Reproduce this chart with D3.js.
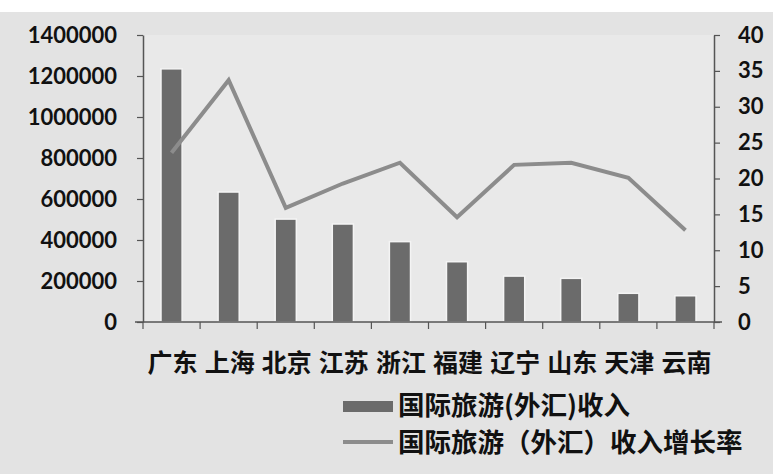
<!DOCTYPE html>
<html>
<head>
<meta charset="utf-8">
<script src="https://cdn.jsdelivr.net/npm/d3@7"></script>
<style>
  body { margin: 0; background: #fff; }
  svg { display: block; }
</style>
</head>
<body>
<div id="chart"></div>
<script>
  const provinces = ['广东', '上海', '北京', '江苏', '浙江', '福建', '辽宁', '山东', '天津', '云南'];
  const income = [1235000, 634000, 502000, 478000, 392000, 294000, 224000, 213000, 140000, 128000];
  const growth = [23.6, 33.7, 15.9, 19.3, 22.2, 14.6, 21.9, 22.2, 20.1, 12.8];
  const leftTicks = [0, 200000, 400000, 600000, 800000, 1000000, 1200000, 1400000];
  const rightTicks = [0, 5, 10, 15, 20, 25, 30, 35, 40];
  const legendNames = ['国际旅游(外汇)收入', '国际旅游（外汇）收入增长率'];

  const width = 773;
  const height = 474;
  const margin = { top: 35, right: 59, bottom: 152, left: 143 };

  const svg = d3.select('#chart')
    .append('svg')
    .attr('width', width)
    .attr('height', height);

  // scanned-page grey background
  svg.append('rect')
    .attr('x', 0).attr('y', 12)
    .attr('width', width).attr('height', height - 12)
    .attr('fill', '#e3e3e3');

  const x = d3.scaleBand()
    .domain(provinces)
    .range([margin.left, width - margin.right]);

  const yLeft = d3.scaleLinear()
    .domain([0, 1400000])
    .range([height - margin.bottom, margin.top]);

  const yRight = d3.scaleLinear()
    .domain([0, 40])
    .range([height - margin.bottom, margin.top]);

  svg.append('rect')
    .attr('x', margin.left).attr('y', margin.top)
    .attr('width', x.range()[1] - margin.left)
    .attr('height', yLeft(0) - margin.top)
    .attr('fill', '#e9e9e9');

  const barW = x.bandwidth() * 0.37;

  svg.append('g')
    .selectAll('rect')
    .data(provinces)
    .enter()
    .append('rect')
    .attr('x', d => x(d) + (x.bandwidth() - barW) / 2)
    .attr('y', (d, i) => yLeft(income[i]))
    .attr('width', barW)
    .attr('height', (d, i) => yLeft(0) - yLeft(income[i]))
    .attr('fill', '#6b6b6b')
    .attr('stroke', '#f4f4f4')
    .attr('stroke-width', 1.5);

  const line = d3.line()
    .x(d => x(d) + x.bandwidth() / 2)
    .y((d, i) => yRight(growth[i]));

  svg.append('path')
    .datum(provinces)
    .attr('d', line)
    .attr('fill', 'none')
    .attr('stroke', '#8c8c8c')
    .attr('stroke-width', 4)
    .attr('stroke-linejoin', 'miter');

  const styleAxis = g => {
    g.select('.domain').attr('stroke', '#555').attr('stroke-width', 1.5);
    g.selectAll('.tick line').attr('stroke', '#555').attr('stroke-width', 1.2);
    g.selectAll('.tick text')
      .attr('fill', '#111')
      .style('font-family', 'Lato, "Open Sans", sans-serif')
      .style('font-size', '22px')
      .style('font-weight', 'bold');
  };

  svg.append('g')
    .attr('transform', `translate(${margin.left},0)`)
    .call(d3.axisLeft(yLeft).tickValues(leftTicks).tickSize(6).tickPadding(20).tickSizeOuter(0).tickFormat(d3.format('d')))
    .call(styleAxis);

  svg.append('g')
    .attr('transform', `translate(${width - margin.right},0)`)
    .call(d3.axisRight(yRight).tickValues(rightTicks).tickSize(6).tickPadding(18).tickSizeOuter(0))
    .call(styleAxis);

  // x axis with ticks between categories
  const xAxis = svg.append('g')
    .attr('transform', `translate(0,${yLeft(0)})`);
  xAxis.append('line')
    .attr('x1', margin.left - 8).attr('x2', x.range()[1] + 8)
    .attr('stroke', '#555').attr('stroke-width', 1.5);
  xAxis.selectAll('line.sep')
    .data(provinces.concat(['end']))
    .enter()
    .append('line')
    .attr('class', 'sep')
    .attr('x1', (d, i) => margin.left + i * x.step())
    .attr('x2', (d, i) => margin.left + i * x.step())
    .attr('y1', 0).attr('y2', 7)
    .attr('stroke', '#555').attr('stroke-width', 1.2);

  svg.append('g')
    .selectAll('text')
    .data(provinces)
    .enter()
    .append('text')
    .attr('x', d => x(d) + x.bandwidth() / 2 + 1)
    .attr('y', 372)
    .attr('text-anchor', 'middle')
    .attr('fill', '#111')
    .style('font-family', '"Noto Sans CJK SC", sans-serif')
    .style('font-size', '25px')
    .style('font-weight', 'bold')
    .text(d => d);

  // legend
  const legend = svg.append('g');
  legend.append('rect')
    .attr('x', 343).attr('y', 401)
    .attr('width', 50).attr('height', 11)
    .attr('fill', '#6b6b6b');
  legend.append('line')
    .attr('x1', 343).attr('x2', 393)
    .attr('y1', 442).attr('y2', 442)
    .attr('stroke', '#8c8c8c').attr('stroke-width', 4);
  legend.selectAll('text')
    .data(legendNames)
    .enter()
    .append('text')
    .attr('x', 398)
    .attr('y', (d, i) => 415 + i * 37)
    .attr('fill', '#111')
    .style('font-family', '"Noto Sans CJK SC", sans-serif')
    .style('font-size', '26.5px')
    .style('font-weight', 'bold')
    .text(d => d);
</script>
</body>
</html>
